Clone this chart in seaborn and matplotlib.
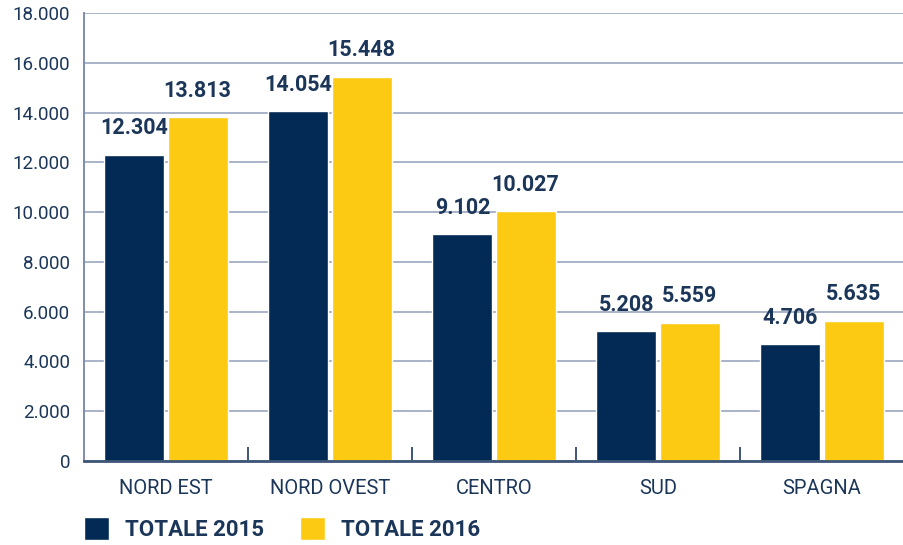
import matplotlib
matplotlib.use("Agg")
import matplotlib.pyplot as plt
import seaborn as sns
import pandas as pd
from matplotlib.ticker import FuncFormatter, MultipleLocator, FixedLocator
from matplotlib.patches import Patch

categories = ["NORD EST", "NORD OVEST", "CENTRO", "SUD", "SPAGNA"]
series_names = ["TOTALE 2015", "TOTALE 2016"]
totale_2015 = [12304, 14054, 9102, 5208, 4706]
totale_2016 = [13813, 15448, 10027, 5559, 5635]

colors = ["#022a54", "#fcc913"]
text_color = "#1b3658"

rows = []
for c, a, b in zip(categories, totale_2015, totale_2016):
    rows.append({"cat": c, "serie": series_names[0], "val": a})
    rows.append({"cat": c, "serie": series_names[1], "val": b})
df = pd.DataFrame(rows)

sns.set_theme(style="white")
plt.rcParams['font.family'] = ['Roboto', 'DejaVu Sans']

fig = plt.figure(figsize=(9.04, 5.45), dpi=100)
ax = fig.add_axes([84/904, (545-461)/545, 820/904, 448/545])

sns.barplot(data=df, x="cat", y="val", hue="serie", palette=colors,
            width=0.77, gap=0.05, saturation=1, ax=ax, legend=False,
            order=categories, hue_order=series_names)

def fmt(v):
    return f"{int(round(v)):,}".replace(",", ".")

for cont in ax.containers:
    ax.bar_label(cont, labels=[fmt(v) for v in cont.datavalues], padding=11,
                 fontsize=15.5, fontweight="bold", color=text_color)

ax.set_ylim(0, 18000)
ax.set_xlim(-0.5, len(categories) - 0.5)
ax.yaxis.set_major_locator(MultipleLocator(2000))
ax.yaxis.set_major_formatter(FuncFormatter(lambda v, p: fmt(v)))
ax.grid(axis="y", color="#a9b3c9", linewidth=1.4)
ax.set_axisbelow(True)
ax.set_xlabel("")
ax.set_ylabel("")

for s in ["top", "right"]:
    ax.spines[s].set_visible(False)
ax.spines["left"].set_color("#7d8dab")
ax.spines["left"].set_linewidth(1.4)
ax.spines["bottom"].set_color("#3d5577")
ax.spines["bottom"].set_linewidth(2)

ax.tick_params(axis="y", length=0, pad=10, labelsize=13.5, labelcolor=text_color)
ax.tick_params(axis="x", which="major", length=0, pad=13, labelsize=14.5, labelcolor=text_color)
ax.xaxis.set_minor_locator(FixedLocator([i + 0.5 for i in range(len(categories) - 1)]))
ax.tick_params(axis="x", which="minor", direction="in", length=10, width=1.4, color="#3d5577", bottom=True)

handles = [Patch(facecolor=colors[0]), Patch(facecolor=colors[1])]
leg = fig.legend(handles, series_names, loc="lower left", bbox_to_anchor=(75/904, -0.009),
                 ncol=2, frameon=False, handlelength=1.15, handleheight=1.15,
                 handletextpad=0.7, columnspacing=1.6, borderaxespad=0,
                 prop={"weight": "bold", "size": 16})
for t in leg.get_texts():
    t.set_color(text_color)

fig.savefig("out.png", dpi=100)
